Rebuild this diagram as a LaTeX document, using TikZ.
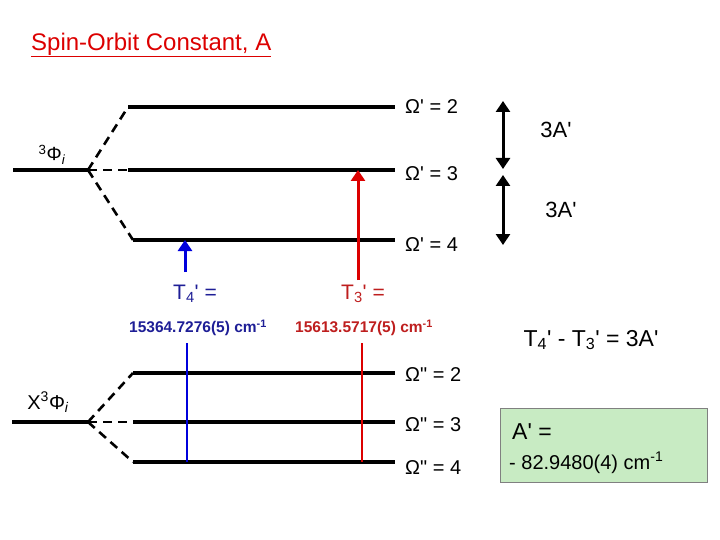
\documentclass[tikz,border=0pt]{standalone}
\usepackage{fontspec}
\setmainfont{Liberation Sans}
\usetikzlibrary{arrows.meta}
\definecolor{tred}{RGB}{220,0,0}
\definecolor{tblue}{RGB}{0,0,220}
\definecolor{dred}{RGB}{190,30,30}
\definecolor{dblue}{RGB}{30,30,150}
\definecolor{boxg}{RGB}{200,235,195}
\newcommand\pr{\textquotesingle}
\newcommand\dpr{\textquotedbl}
\begin{document}
\begin{tikzpicture}[x=1pt,y=-1pt,
 lev/.style={line width=4pt},
 dsh/.style={line width=2.6pt,dash pattern=on 9pt off 6pt},
 lab/.style={font=\fontsize{20}{22}\selectfont,anchor=west,inner sep=0},
 num/.style={font=\bfseries\fontsize{15.5}{17}\selectfont,inner sep=0},
 dbl/.style={line width=3pt,{Triangle[length=11pt,width=14pt]}-{Triangle[length=11pt,width=14pt]}}]
\useasboundingbox (0,0) rectangle (720,540);
\node[anchor=west,text=tred,font=\fontsize{24}{26}\selectfont,inner sep=0] (title) at (31,45) {\underline{Spin-Orbit Constant, A}};
% upper state
\coordinate (uc) at (88,170);
\draw[lev] (13,170) -- (uc);
\draw[lev] (128,107) -- (395,107) coordinate (u2);
\draw[lev] (128,170) -- (395,170) coordinate (u3);
\draw[lev] (133,240) -- (395,240) coordinate (u4);
\draw[dsh] (uc) -- (128,107);
\draw[dsh] (uc) -- (128,170);
\draw[dsh] (uc) -- (133,240);
\node[font=\fontsize{19}{21}\selectfont,inner sep=0] (ul) at (52,155) {\textsuperscript{3}Φ\textsubscript{\itshape i}};
\node[lab] (l2) at (405,107) {Ω\pr\ = 2};
\node[lab] (l3) at (405,174) {Ω\pr\ = 3};
\node[lab] (l4) at (405,245) {Ω\pr\ = 4};
\draw[dbl] (503,101) -- (503,169);
\draw[dbl] (503,175) -- (503,245);
\node[lab,anchor=center,font=\fontsize{22}{24}\selectfont] (a1) at (556,130) {3A\pr};
\node[lab,anchor=center,font=\fontsize{22}{24}\selectfont] (a2) at (561,210) {3A\pr};
% transitions
\node[text=dblue,font=\fontsize{21}{23}\selectfont,inner sep=0] (t4) at (195,294) {T\textsubscript{4}\pr\ =};
\node[text=dred,font=\fontsize{21}{23}\selectfont,inner sep=0] (t3) at (363,294) {T\textsubscript{3}\pr\ =};
\node[num,text=dblue] (n4) at (198,328) {15364.7276(5) cm\textsuperscript{-1}};
\node[num,text=dred] (n3) at (364,328) {15613.5717(5) cm\textsuperscript{-1}};
\coordinate (b0) at (185,272);
\coordinate (r0) at (358,280);
\draw[tblue,line width=3pt,-{Triangle[length=11pt,width=14pt]}] (b0) -- (185,240);
\draw[tred,line width=3pt,-{Triangle[length=11pt,width=14pt]}] (r0) -- (358,170);
% lower state
\coordinate (lc) at (88,422);
\draw[lev] (12,422) -- (lc);
\draw[lev] (133,373) -- (395,373) coordinate (g2);
\draw[lev] (133,422) -- (395,422) coordinate (g3);
\draw[lev] (133,462) -- (395,462) coordinate (g4);
\draw[dsh] (lc) -- (133,373);
\draw[dsh] (lc) -- (133,422);
\draw[dsh] (lc) -- (133,462);
\draw[tblue,line width=2.5pt] (187,343) -- (187,462);
\draw[tred,line width=2.5pt] (362,343) -- (362,462);
\node[font=\fontsize{20}{22}\selectfont,inner sep=0] (xl) at (48,402) {X\textsuperscript{3}Φ\textsubscript{\itshape i}};
\node[lab] (m2) at (405,375) {Ω\dpr\ = 2};
\node[lab] (m3) at (405,425) {Ω\dpr\ = 3};
\node[lab] (m4) at (405,468) {Ω\dpr\ = 4};
\node[lab,anchor=center,font=\fontsize{23}{25}\selectfont] (eq) at (591,340) {T\textsubscript{4}\pr\ - T\textsubscript{3}\pr\ = 3A\pr};
\node[draw=gray,line width=0.8pt,fill=boxg,minimum width=207pt,minimum height=74pt,inner sep=0] (box) at (603.5,445) {};
\node[anchor=west,font=\fontsize{23}{25}\selectfont,inner sep=0] (ap) at (512,432) {A\pr\ =};
\node[anchor=west,font=\fontsize{20}{22}\selectfont,inner sep=0] (av) at (509,463) {- 82.9480(4) cm\textsuperscript{-1}};
\end{tikzpicture}
\end{document}
